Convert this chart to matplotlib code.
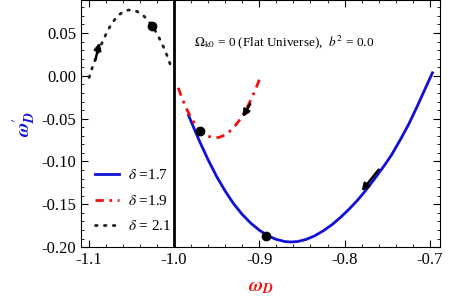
import numpy as np
import matplotlib
matplotlib.use("Agg")
import matplotlib.pyplot as plt
from matplotlib.ticker import MultipleLocator, FormatStrFormatter

plt.rcParams['font.family'] = ['Liberation Serif', 'DejaVu Serif']
plt.rcParams['mathtext.fontset'] = 'stix'

# delta = 1.7 (blue, solid)
w_17 = [-0.983, -0.976, -0.97, -0.96, -0.95, -0.94, -0.93, -0.92, -0.91, -0.90, -0.89,
        -0.88, -0.87, -0.863, -0.855, -0.845, -0.835, -0.825, -0.815, -0.805, -0.795,
        -0.785, -0.775, -0.765, -0.755, -0.745, -0.735, -0.725, -0.715, -0.705, -0.697]
dw_17 = [-0.046, -0.0625, -0.0765, -0.098, -0.1175, -0.1345, -0.1495, -0.1618, -0.1720, -0.1802,
         -0.1868, -0.1910, -0.1935, -0.194, -0.1935, -0.1910, -0.1868, -0.1810, -0.1740, -0.1655,
         -0.1560, -0.1455, -0.1335, -0.1205, -0.1070, -0.0925, -0.0752, -0.0570, -0.0360, -0.0140, 0.0035]

# delta = 1.9 (red, dot-dashed)
w_19 = [-0.995, -0.99, -0.985, -0.98, -0.975, -0.97, -0.965, -0.96, -0.955, -0.952, -0.948,
        -0.943, -0.938, -0.933, -0.928, -0.923, -0.918, -0.913, -0.908, -0.903, -0.898]
dw_19 = [-0.014, -0.0276, -0.039, -0.049, -0.0568, -0.063, -0.0675, -0.0705, -0.0720, -0.0724, -0.0720,
         -0.0704, -0.0675, -0.0634, -0.0580, -0.0514, -0.0435, -0.0344, -0.0240, -0.0124, 0.0005]

# delta = 2.1 (black, dotted)
w_21 = [-1.0994, -1.095, -1.09, -1.085, -1.08, -1.075, -1.07, -1.065, -1.06, -1.055, -1.051,
        -1.045, -1.04, -1.035, -1.03, -1.025, -1.02, -1.015, -1.01, -1.006, -1.0023]
dw_21 = [-0.002, 0.012, 0.025, 0.037, 0.048, 0.0575, 0.065, 0.0707, 0.0745, 0.0765, 0.077,
         0.0759, 0.0734, 0.0695, 0.064, 0.0575, 0.0493, 0.0395, 0.0285, 0.018, 0.007]

# present-day points
dots_w = [-0.892, -0.969, -1.0254]
dots_dw = [-0.187, -0.064, 0.058]

# arrows: (tail, head)
arrows = [((-0.758, -0.107), (-0.782, -0.137)),
          ((-0.909, -0.030), (-0.921, -0.051)),
          ((-1.093, 0.015), (-1.0865, 0.042))]

fig = plt.figure(figsize=(4.5, 3.01), dpi=100)
ax = fig.add_axes([0.18, 0.179, 0.798, 0.821])

ax.axvline(-1.0, color='black', lw=2)
ax.plot(w_17, dw_17, color='#1010d8', lw=2, label=r'$\delta$ =1.7')
ax.plot(w_19, dw_19, color='#ee1111', lw=2, linestyle=(0, (3, 2, 1, 2)), label=r'$\delta$ =1.9')
ax.plot(w_21, dw_21, color='#202020', lw=2, linestyle=(0, (0.6, 2.6)), dash_capstyle='round',
        label=r'$\delta$ = 2.1')
ax.plot(dots_w, dots_dw, 'o', color='black', ms=6)

for tail, head in arrows:
    ax.annotate('', xy=head, xytext=tail,
                arrowprops=dict(arrowstyle='-|>', color='black', lw=1.8, mutation_scale=10))

ax.text(-0.977, 0.035, r'$\Omega_{\rm k0}$ = 0 (Flat Universe),  $b^2$ = 0.0', fontsize=9.5)

ax.set_xlim(-1.109, -0.688)
ax.set_ylim(-0.2, 0.0885)
ax.xaxis.set_major_locator(MultipleLocator(0.1))
ax.xaxis.set_minor_locator(MultipleLocator(0.02))
ax.yaxis.set_major_locator(MultipleLocator(0.05))
ax.yaxis.set_minor_locator(MultipleLocator(0.01))
ax.xaxis.set_major_formatter(FormatStrFormatter('%.1f'))
ax.yaxis.set_major_formatter(FormatStrFormatter('%.2f'))
ax.tick_params(which='both', direction='in', top=True, right=True, labelsize=12)
ax.tick_params(which='major', length=5)
ax.tick_params(which='minor', length=2.5)

ax.set_xlabel(r'$\mathbfit{\omega}_{\mathbfit{D}}$', color='#ee1111', fontsize=14, labelpad=8)
ax.set_ylabel(r"$\mathbfit{\omega}^{\prime}_{\mathbfit{D}}$", color='#1010d8', fontsize=14, labelpad=2)

ax.legend(loc='lower left', frameon=False, fontsize=11, handlelength=1.6, handletextpad=0.6,
          labelspacing=0.75, bbox_to_anchor=(0.0, 0.0))

fig.savefig('out.png', dpi=100)
